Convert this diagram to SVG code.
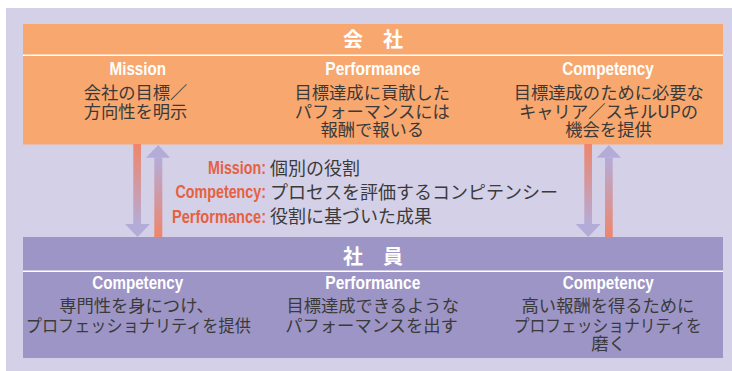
<svg xmlns="http://www.w3.org/2000/svg" width="732" height="371" viewBox="0 0 732 371">
<defs>
<style>
.jp{font-family:"Noto Sans CJK JP","Noto Sans",sans-serif;font-size:17.3px;fill:#3a3a3a;text-anchor:middle}
.hd{font-family:"Noto Sans CJK JP",sans-serif;font-size:20px;font-weight:bold;fill:#ffffff;text-anchor:middle}
.lb{font-family:"Liberation Sans Narrow","Liberation Sans",Arial,sans-serif;font-size:18px;font-weight:bold;fill:#ffffff;text-anchor:middle}
.rd{font-family:"Liberation Sans Narrow","Liberation Sans",Arial,sans-serif;font-size:18px;font-weight:bold;fill:#e6613f;text-anchor:end}
.mj{font-family:"Noto Sans CJK JP",sans-serif;font-size:18px;fill:#3a3a3a}
.div{stroke:#ffffff;stroke-width:1.6}
</style>
<linearGradient id="gDown" x1="0" y1="0" x2="0" y2="1">
<stop offset="0" stop-color="#f0856a"/>
<stop offset="1" stop-color="#b4acd8"/>
</linearGradient>
<linearGradient id="gUp" x1="0" y1="0" x2="0" y2="1">
<stop offset="0" stop-color="#b4acd8"/>
<stop offset="1" stop-color="#f0856a"/>
</linearGradient>
</defs>
<rect x="6" y="8" width="726" height="363" fill="#d4d0e7"/>

<g id="company">
<rect x="23" y="24" width="700" height="120.5" fill="#f8a76e"/>
<line class="div" x1="23" y1="55.3" x2="723" y2="55.3"/>
<text class="hd" x="373" y="47">会　社</text>
<text class="lb" x="137.8" y="74.8" textLength="56.5" lengthAdjust="spacingAndGlyphs">Mission</text>
<text class="jp" x="135.5" y="99">会社の目標／</text>
<text class="jp" x="135.5" y="117.5">方向性を明示</text>
<text class="lb" x="372.8" y="74.8" textLength="95" lengthAdjust="spacingAndGlyphs">Performance</text>
<text class="jp" x="372.3" y="99">目標達成に貢献した</text>
<text class="jp" x="372.3" y="117.5">パフォーマンスには</text>
<text class="jp" x="372.3" y="136">報酬で報いる</text>
<text class="lb" x="608" y="74.8" textLength="91.5" lengthAdjust="spacingAndGlyphs">Competency</text>
<text class="jp" x="608.8" y="99">目標達成のために必要な</text>
<text class="jp" x="608.5" y="117.5">キャリア／スキルUPの</text>
<text class="jp" x="608.5" y="136">機会を提供</text>
</g>

<g id="employee">
<rect x="23" y="237" width="700" height="121" fill="#9d95c5"/>
<line class="div" x1="23" y1="271.3" x2="723" y2="271.3"/>
<text class="hd" x="373" y="264">社　員</text>
<text class="lb" x="137.7" y="288.8" textLength="91" lengthAdjust="spacingAndGlyphs">Competency</text>
<text class="jp" x="136.5" y="312.3">専門性を身につけ、</text>
<text class="jp" x="138.3" y="331.5" textLength="225" lengthAdjust="spacingAndGlyphs">プロフェッショナリティを提供</text>
<text class="lb" x="372.8" y="288.8" textLength="95" lengthAdjust="spacingAndGlyphs">Performance</text>
<text class="jp" x="372.7" y="312.3">目標達成できるような</text>
<text class="jp" x="371.5" y="331.5">パフォーマンスを出す</text>
<text class="lb" x="608.3" y="288.8" textLength="91" lengthAdjust="spacingAndGlyphs">Competency</text>
<text class="jp" x="608" y="312.3">高い報酬を得るために</text>
<text class="jp" x="607.7" y="331.5" textLength="188" lengthAdjust="spacingAndGlyphs">プロフェッショナリティを</text>
<text class="jp" x="608.5" y="349.8">磨く</text>
</g>

<g id="evaluation">
<text class="rd" x="266" y="174" textLength="58" lengthAdjust="spacingAndGlyphs">Mission:</text>
<text class="rd" x="266" y="198.3" textLength="90.5" lengthAdjust="spacingAndGlyphs">Competency:</text>
<text class="rd" x="266" y="222.5" textLength="94" lengthAdjust="spacingAndGlyphs">Performance:</text>
<text class="mj" x="270" y="174.5">個別の役割</text>
<text class="mj" x="270" y="198.7">プロセスを評価するコンピテンシー</text>
<text class="mj" x="270" y="222.9">役割に基づいた成果</text>
</g>

<g id="connectors">
<rect x="133.3" y="144" width="7.7" height="80.5" fill="url(#gDown)"/>
<polygon points="125,224 150,224 137.5,237" fill="#b4acd8"/>
<rect x="154.3" y="157.5" width="8" height="79.5" fill="url(#gUp)"/>
<polygon points="146,157.7 170,157.7 158.3,145" fill="#b4acd8"/>
<rect x="584.3" y="144" width="7.7" height="80.5" fill="url(#gDown)"/>
<polygon points="575.7,224 600.7,224 588.2,237" fill="#b4acd8"/>
<rect x="605" y="157.5" width="7.7" height="79.5" fill="url(#gUp)"/>
<polygon points="596.7,157.7 621,157.7 608.8,145" fill="#b4acd8"/>
</g>
</svg>
